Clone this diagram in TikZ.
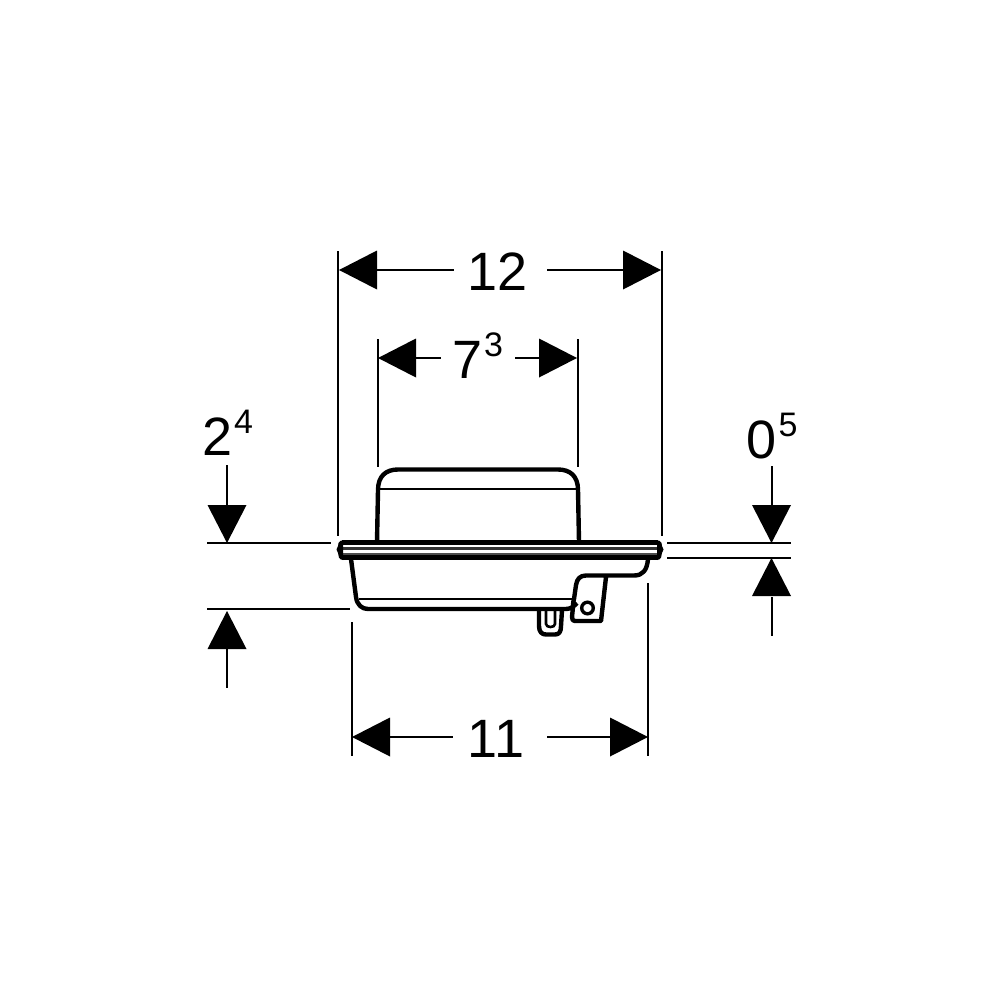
\documentclass[tikz,border=0pt]{standalone}
\usepackage{fontspec}
\setmainfont{Liberation Sans}
\tikzset{
  dim/.style={line width=2pt,black},
  body/.style={line width=4.4pt,black,line join=round},
  thin/.style={line width=2pt,black},
  lab/.style={inner sep=0pt,anchor=base,font=\fontsize{54}{54}\selectfont},
  tipfill/.style={fill=black,draw=none}
}
\newcommand{\hi}[1]{\kern2pt\raisebox{22pt}{\fontsize{34}{34}\selectfont #1}}
\newcommand{\tipL}[2]{\fill[tipfill] (#1,#2) -- ++(38,-19.5) -- ++(0,39) -- cycle;}
\newcommand{\tipR}[2]{\fill[tipfill] (#1,#2) -- ++(-38,-19.5) -- ++(0,39) -- cycle;}
\newcommand{\tipD}[2]{\fill[tipfill] (#1,#2) -- ++(-19.5,-38) -- ++(39,0) -- cycle;}
\newcommand{\tipU}[2]{\fill[tipfill] (#1,#2) -- ++(-19.5,38) -- ++(39,0) -- cycle;}
\begin{document}
\begin{tikzpicture}[x=1pt,y=-1pt]
\useasboundingbox (0,0) rectangle (1000,1000);
% top dimension 12
\draw[dim] (338,251) -- (338,536);
\draw[dim] (661.5,251) -- (661.5,536);
\tipL{339}{270}\tipR{661}{270}
\draw[dim] (377,270) -- (454,270);
\draw[dim] (547,270) -- (623,270);
\node[lab] (t12) at (498,290) {12};
% 7^3
\draw[dim] (378,339) -- (378,467);
\draw[dim] (578,339) -- (578,467);
\tipL{378}{358}\tipR{577}{358}
\draw[dim] (416,358) -- (441,358);
\draw[dim] (515,358) -- (539,358);
\node[lab] (t73) at (477.5,378) {7\hi{3}};
% 2^4
\node[lab] (t24) at (227.5,455) {2\hi{4}};
\draw[dim] (227,465) -- (227,505);
\tipD{227}{543}
\draw[dim] (207,543) -- (331,543);
\draw[dim] (207,609) -- (350,609);
\tipU{227}{611}
\draw[dim] (227,649) -- (227,688);
% 0^5
\node[lab] (t05) at (772,458) {0\hi{5}};
\draw[dim] (771.5,466) -- (771.5,505);
\tipD{771.5}{543}
\draw[dim] (667,543) -- (791,543);
\draw[dim] (667,558) -- (791,558);
\tipU{771.5}{558}
\draw[dim] (771.5,597) -- (771.5,636);
% 11
\draw[dim] (351.5,622) -- (351.5,756);
\draw[dim] (648,583) -- (648,756);
\tipL{352}{737}\tipR{648}{737}
\draw[dim] (390,737) -- (453,737);
\draw[dim] (547,737) -- (610,737);
\node[lab] (t11) at (496,757) {11};
% dome
\draw[body] (377,542) -- (378,490) .. controls (378,476) and (386,469.5) .. (398,469.5)
  -- (558,469.5) .. controls (570,469.5) and (578,476) .. (578,490) -- (579,542);
\draw[thin] (379,488.5) -- (577,488.5);
% flange
\draw[line width=5pt,black] (342,542.7) -- (658,542.7);
\draw[line width=5pt,black] (342,557.5) -- (658,557.5);
\draw[line width=2.6pt,black!80] (340,548.7) -- (660,548.7);
\draw[line width=1.8pt,black!70] (340,554) -- (660,554);
\fill[black] (343,540.5) -- (341,540.5) .. controls (338.5,541) and (338,544) .. (338,546)
  .. controls (336,548) and (336,551) .. (338,553) .. controls (338,556) and (339,560) .. (343,560) -- cycle;
\fill[black] (657,540.5) -- (659,540.5) .. controls (661.5,541) and (662,544) .. (662,546)
  .. controls (664,548) and (664,551) .. (662,553) .. controls (662,556) and (661,560) .. (657,560) -- cycle;
% tray
\draw[body] (351,559) -- (356,597) .. controls (357,605) and (362,609) .. (368,609)
  -- (566,609) .. controls (571,609) and (574,606) .. (577,603);
\draw[thin] (359,599) -- (573,599);
\draw[body] (648,559) .. controls (647,570) and (643,575.5) .. (634,575.5) -- (586,575.5)
  .. controls (580,575.5) and (577,579) .. (576,585) -- (574,599) .. controls (573,603) and (573,604) .. (573,607)
  -- (572,617) .. controls (572,620) and (573,621) .. (575,621) -- (601,621) -- (606,577);
\draw[line width=3.4pt,black] (587.5,608) circle (5.8);
% peg
\draw[body] (539,610) -- (539,626) .. controls (539,632) and (542,634.5) .. (546,634.5)
  -- (555,634.5) .. controls (559,634.5) and (561,632) .. (561,626) -- (562,610);
\draw[line width=2.6pt,black] (546,611) -- (546,624) .. controls (546,628) and (555,628) .. (555,624) -- (555,611);
\end{tikzpicture}
\end{document}
